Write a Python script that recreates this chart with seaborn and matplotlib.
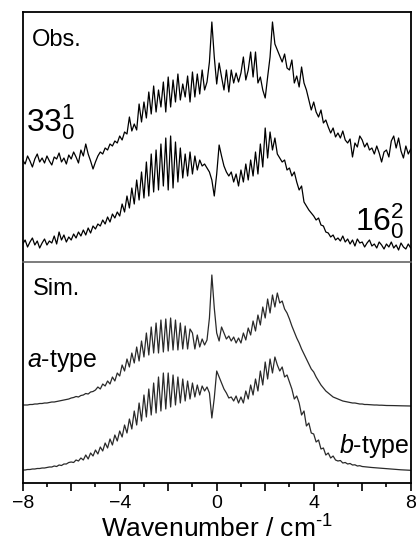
import numpy as np
import pandas as pd
import matplotlib
matplotlib.use("Agg")
import matplotlib.pyplot as plt
from matplotlib.ticker import MultipleLocator, FuncFormatter
import seaborn as sns

# ---------------- data (x step 0.1 cm^-1) ----------------
wavenumber = np.round(np.arange(-80, 81) / 10.0, 1)

obs_33 = [
    102, 98, 106, 101, 95, 103, 108, 100, 104, 99,
    106, 101, 97, 105, 103, 109, 100, 104, 98, 107,
    103, 110, 105, 99, 112, 106, 118, 108, 101, 93,
    100, 106, 110, 108, 114, 112, 118, 116, 121, 119,
    126, 122, 130, 128, 145, 131, 138, 132, 158, 140,
    160, 144, 170, 148, 176, 150, 172, 155, 180, 150,
    185, 155, 182, 160, 188, 162, 178, 165, 186, 160,
    190, 165, 188, 168, 192, 172, 180, 200, 240, 205,
    178, 199, 185, 172, 192, 170, 192, 179, 189, 180,
    189, 205, 182, 192, 210, 185, 210, 179, 185, 172,
    164, 185, 205, 240, 218, 212, 206, 200, 208, 194,
    192, 202, 179, 186, 175, 195, 179, 172, 162, 152,
    160, 150, 145, 152, 139, 142, 135, 129, 134, 125,
    129, 124, 131, 122, 119, 123, 105, 119, 115, 126,
    122, 115, 119, 112, 114, 108, 116, 109, 100, 110,
    112, 105, 121, 126, 114, 124, 111, 104, 116, 108, 113,
]

obs_16 = [
    18, 22, 15, 20, 24, 17, 21, 14, 19, 23,
    17, 21, 19, 26, 18, 30, 22, 27, 20, 25,
    22, 28, 24, 30, 26, 32, 27, 34, 29, 36,
    33, 38, 36, 42, 38, 45, 40, 48, 44, 50,
    46, 58, 50, 66, 54, 74, 58, 82, 62, 90,
    64, 100, 66, 108, 70, 112, 72, 118, 76, 124,
    72, 126, 74, 120, 80, 114, 84, 108, 86, 110,
    88, 106, 92, 102, 96, 98, 94, 90, 82, 66,
    88, 117, 106, 96, 90, 86, 90, 80, 88, 76,
    92, 80, 98, 82, 102, 86, 110, 88, 118, 95,
    134, 104, 130, 112, 124, 108, 104, 100, 102, 92,
    94, 86, 90, 80, 72, 76, 60, 56, 52, 49,
    46, 42, 44, 37, 36, 30, 29, 25, 27, 22,
    24, 21, 26, 20, 23, 18, 22, 16, 23, 19,
    20, 15, 19, 22, 16, 18, 14, 20, 17, 13,
    18, 15, 20, 14, 17, 12, 19, 15, 13, 18, 14,
]

sim_a = [
    78, 78, 78, 78.5, 78.5, 79, 79, 79.5, 79.5, 80,
    80, 80.5, 81, 81, 81.5, 82, 82.5, 83, 83.5, 84,
    85, 85.5, 86.5, 86, 87.5, 88, 89.5, 89, 91, 91.5,
    93, 96, 94, 99, 97, 102, 99, 106, 102, 110,
    107, 118, 112, 124, 116, 130, 120, 136, 122, 142,
    126, 150, 128, 156, 130, 160, 130, 163, 131, 164,
    132, 165, 133, 163, 133, 160, 134, 157, 134, 154,
    150, 134, 148, 136, 144, 138, 143, 165, 208, 175,
    150, 142, 156, 150, 144, 147, 142, 146, 140, 145,
    140, 150, 143, 155, 148, 162, 152, 168, 158, 176,
    165, 184, 170, 188, 176, 190, 180, 182, 174, 170,
    164, 157, 151, 145, 140, 134, 129, 124, 119, 114,
    111, 106, 102, 98, 95, 92, 90, 88, 86, 85,
    84, 83, 82, 81.5, 81, 80.5, 80, 80, 79.5, 79,
    79, 78.5, 78.5, 78.3, 78, 78, 78, 77.8, 77.8, 77.6,
    77.5, 77.5, 77.5, 77.4, 77.3, 77.3, 77.2, 77.2, 77.1, 77, 77,
]

sim_b = [
    13, 13, 13.5, 13.5, 14, 14, 14.5, 14.5, 15, 15,
    15.5, 16, 16, 17, 16.5, 18, 17.5, 19, 19, 20.5,
    21, 20.5, 23, 22, 25, 23, 28, 24, 30, 27,
    33, 29, 36, 32, 40, 35, 44, 38, 48, 42,
    52, 46, 58, 50, 64, 54, 72, 58, 80, 62,
    88, 66, 94, 68, 100, 70, 106, 72, 110, 74,
    110, 76, 108, 78, 106, 80, 104, 82, 102, 84,
    100, 86, 98, 88, 97, 92, 96, 90, 65, 85,
    112, 106, 100, 94, 90, 85, 86, 82, 87, 80,
    86, 80, 92, 84, 98, 88, 104, 92, 112, 98,
    121, 104, 124, 110, 126, 118, 112, 116, 106, 108,
    101, 94, 84, 87, 80, 68, 72, 57, 60, 50,
    49, 41, 43, 34, 35, 28, 30, 25, 27, 23,
    22, 22.5, 20, 20.5, 19, 19.5, 18, 18.2, 17, 17.3,
    16.5, 16.3, 16, 15.7, 15.5, 15.3, 15, 14.8, 14.6, 14.4,
    14.2, 14, 13.8, 13.7, 13.5, 13.4, 13.2, 13.1, 13, 12.8, 12.7,
]

x_ticks_major = [-8, -6, -4, -2, 0, 2, 4, 6, 8]
x_tick_labelled = [-8, -4, 0, 4, 8]

obs_df = pd.DataFrame({"wn": wavenumber, "33": obs_33, "16": obs_16})
sim_df = pd.DataFrame({"wn": wavenumber, "a": sim_a, "b": sim_b})

# ---------------- style ----------------
sns.set_style("white")
plt.rcParams["font.family"] = ["Liberation Sans", "DejaVu Sans"]
plt.rcParams["mathtext.fontset"] = "custom"
plt.rcParams["mathtext.rm"] = "Liberation Sans"
plt.rcParams["mathtext.it"] = "Liberation Sans:italic"
plt.rcParams["mathtext.bf"] = "Liberation Sans:bold"
plt.rcParams["text.color"] = "black"
plt.rcParams["axes.labelcolor"] = "black"
plt.rcParams["xtick.color"] = "black"

W, H = 417, 546
fig = plt.figure(figsize=(W / 100, H / 100), dpi=100)
fig.patch.set_facecolor("white")

left = 22.7 / W
width = (410.7 - 22.7) / W
y_div = 1 - 262 / H
y_top = 1 - 12 / H
y_bot = 1 - 483 / H
ax1 = fig.add_axes([left, y_div, width, y_top - y_div])
ax2 = fig.add_axes([left, y_bot, width, y_div - y_bot])

lw = 0.9
sns.lineplot(data=obs_df, x="wn", y="33", ax=ax1, color="black", lw=lw, sort=False)
sns.lineplot(data=obs_df, x="wn", y="16", ax=ax1, color="black", lw=lw, sort=False)
sns.lineplot(data=sim_df, x="wn", y="a", ax=ax2, color="#2a2a2a", lw=lw, sort=False)
sns.lineplot(data=sim_df, x="wn", y="b", ax=ax2, color="#2a2a2a", lw=lw, sort=False)

for ax in (ax1, ax2):
    ax.set_xlim(-8, 8)
    ax.set_ylabel("")
    ax.set_xlabel("")
    ax.set_yticks([])
    ax.set_facecolor("white")
    for s in ax.spines.values():
        s.set_color("black")
        s.set_linewidth(1.3)

ax1.set_ylim(0, 250)
ax2.set_ylim(0, 221)
ax1.set_xticks([])
ax1.spines["bottom"].set_visible(False)
ax2.spines["top"].set_color("#666666")
ax2.spines["top"].set_linewidth(1.2)

ax2.set_xticks(x_ticks_major)
ax2.xaxis.set_minor_locator(MultipleLocator(1))
ax2.xaxis.set_major_formatter(FuncFormatter(
    lambda v, p: (f"{int(round(v))}".replace("-", "\u2212")
                  if int(round(v)) in x_tick_labelled else "")))
ax2.tick_params(axis="x", which="major", direction="out", length=6, width=1.2,
                bottom=True, labelsize=14, pad=3, colors="black")
ax2.tick_params(axis="x", which="minor", direction="out", length=3.2, width=1.2,
                bottom=True, colors="black")
ax2.set_xlabel(r"Wavenumber / cm$^{\text{-1}}$", fontsize=19, labelpad=2,
               color="black")

# ---------------- annotations ----------------
ax1.text(0.024, 0.864, "Obs.", transform=ax1.transAxes, fontsize=17,
         ha="left", va="baseline", color="black")
ax1.text(0.008, 0.521, r"$\mathregular{33_0^1}$", transform=ax1.transAxes,
         fontsize=23, ha="left", va="baseline", color="black")
ax1.text(0.985, 0.128, r"$\mathregular{16_0^2}$", transform=ax1.transAxes,
         fontsize=23, ha="right", va="baseline", color="black")
ax2.text(0.026, 0.851, "Sim.", transform=ax2.transAxes, fontsize=17,
         ha="left", va="baseline", color="black")
ax2.text(0.012, 0.525, "$a$-type", transform=ax2.transAxes, fontsize=18,
         ha="left", va="baseline", color="black")
ax2.text(0.997, 0.137, "$b$-type", transform=ax2.transAxes, fontsize=18,
         ha="right", va="baseline", color="black")

fig.savefig("out.png", dpi=100, facecolor="white")
